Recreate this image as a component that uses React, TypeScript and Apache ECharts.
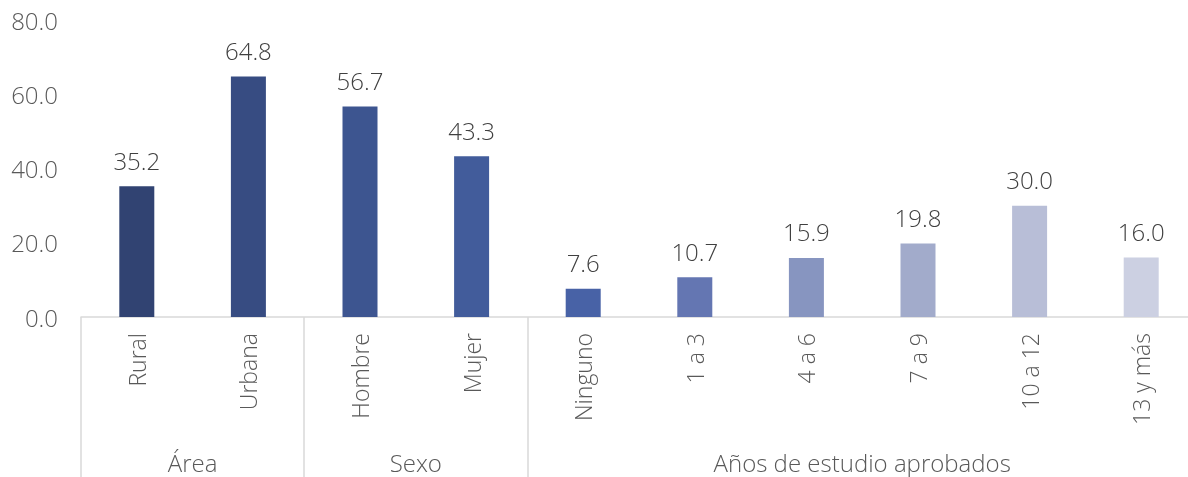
import React, { useEffect, useRef } from "react";
import * as echarts from "echarts";

const categories = ["Rural", "Urbana", "Hombre", "Mujer", "Ninguno", "1 a 3", "4 a 6", "7 a 9", "10 a 12", "13 y más"];
const values = [35.2, 64.8, 56.7, 43.3, 7.6, 10.7, 15.9, 19.8, 30.0, 16.0];
const barColors = ["#314372", "#374c82", "#3d5590", "#425c9b", "#4862a6", "#6476b2", "#8795c0", "#a2abcb", "#b8bed7", "#ccd0e2"];
const groups = [
  { name: "Área", start: 0, end: 1 },
  { name: "Sexo", start: 2, end: 3 },
  { name: "Años de estudio aprobados", start: 4, end: 9 },
];
const yTicks = { min: 0, max: 80, interval: 20 };

const FONT = "'Open Sans', sans-serif";
const GRID_W = 1116;

export default function App() {
  const ref = useRef<HTMLDivElement>(null);
  useEffect(() => {
    if (!ref.current) return;
    const chart = echarts.init(ref.current, null, { renderer: "svg" });
    const boundaries = new Set<number>(groups.map((g) => g.start));
    chart.setOption({
      animation: false,
      grid: { left: 81, top: 20, height: 297, width: GRID_W },
      xAxis: {
        type: "category",
        data: categories,
        axisLine: { show: true, lineStyle: { color: "#d9d9d9", width: 1.5 } },
        axisTick: {
          show: true,
          interval: (i: number) => boundaries.has(i),
          length: 165,
          lineStyle: { color: "#d9d9d9", width: 1.5 },
        },
        axisLabel: {
          rotate: 90,
          interval: 0,
          margin: 16,
          color: "#595959",
          fontSize: 23,
          fontFamily: FONT,
          fontWeight: 300,
        },
      },
      yAxis: {
        type: "value",
        min: yTicks.min,
        max: yTicks.max,
        interval: yTicks.interval,
        splitLine: { show: false },
        axisLine: { show: false },
        axisTick: { show: false },
        axisLabel: {
          margin: 23,
          color: "#595959",
          fontSize: 24,
          fontFamily: FONT,
          fontWeight: 300,
          formatter: (v: number) => v.toFixed(1),
        },
      },
      series: [
        {
          type: "bar",
          barWidth: 35,
          data: values.map((v, i) => ({ value: v, itemStyle: { color: barColors[i] } })),
          label: {
            show: true,
            position: "top",
            distance: 14,
            color: "#404040",
            fontSize: 24,
            fontFamily: FONT,
            fontWeight: 300,
            formatter: (p: any) => Number(p.value).toFixed(1),
          },
        },
      ],
    });
    const half = GRID_W / categories.length / 2;
    const graphics = groups.map((g) => {
      const x1 = chart.convertToPixel({ xAxisIndex: 0 }, g.start) as number;
      const x2 = chart.convertToPixel({ xAxisIndex: 0 }, g.end) as number;
      return {
        type: "text",
        x: (x1 - half + x2 + half) / 2,
        y: 462,
        style: {
          text: g.name,
          fill: "#595959",
          font: `300 24px ${FONT}`,
          align: "center",
          verticalAlign: "middle",
        },
      };
    });
    chart.setOption({ graphic: graphics });
    return () => chart.dispose();
  }, []);
  return <div ref={ref} style={{ position: "fixed", left: 0, top: 0, width: 1200, height: 477 }} />;
}
